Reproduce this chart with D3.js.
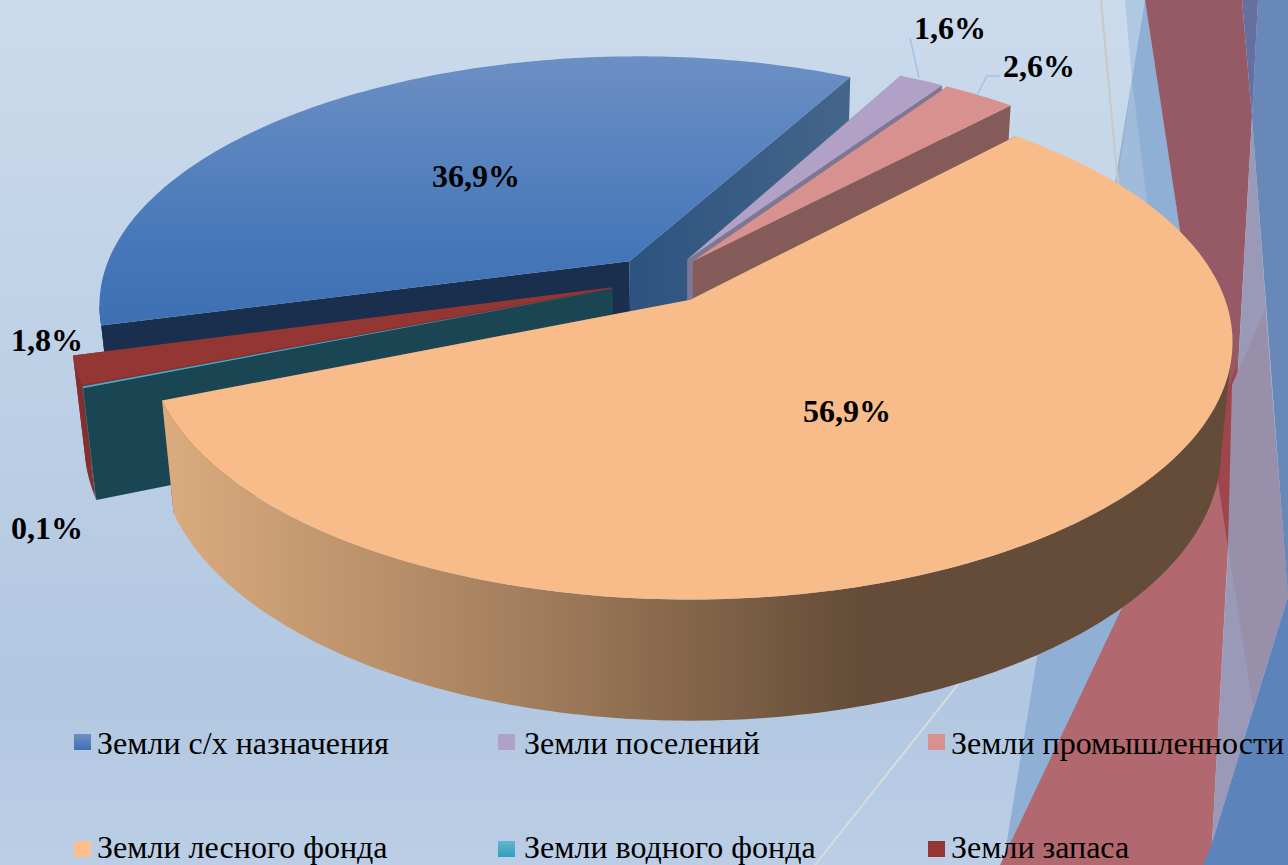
<!DOCTYPE html>
<html>
<head>
<meta charset="utf-8">
<script src="https://cdn.jsdelivr.net/npm/d3@7"></script>
<style>
  html, body { margin: 0; padding: 0; background: #bdd0e7; overflow: hidden; }
  text { font-family: "Liberation Serif", "Times New Roman", serif; fill: #000; }
</style>
</head>
<body>
<div id="chart"></div>
<script>
// data
const categories = ["Земли с/х назначения", "Земли поселений", "Земли промышленности",
                    "Земли лесного фонда", "Земли водного фонда", "Земли запаса"];
const values = [36.9, 1.6, 2.6, 56.9, 0.1, 1.8];
const valueLabels = ["36,9%", "1,6%", "2,6%", "56,9%", "0,1%", "1,8%"];

// colours of each slice
const topColors = ["url(#blueTop)", "#b2a1c6", "#d79290", "#f8bc8b", "#4bacc6", "#933634"];
const startWallColors = ["#1a2f4e", "#7e7794", "#855b59", "#644c38", "#1a4552", "#8a3030"];
const endWallColors = ["url(#blueWall)", "#7e7794", "#855b59", "#644c38", "#1a4552", "#8a3030"];
const outerWallColors = ["#1a2f4e", "#7e7794", "#855b59", "url(#orangeWall)", "#3a8ea5", "#852e2e"];
const swatchColors = ["url(#blueSwatch)", "#b2a1c6", "#d79290", "#fcc08e", "url(#tealSwatch)", "#933634"];

const width = 1288, height = 865;

const svg = d3.select("#chart").append("svg")
    .attr("width", width)
    .attr("height", height)
    .style("display", "block");

const defs = svg.append("defs");
function gradient(id, x1, y1, x2, y2, stops) {
  const g = defs.append("linearGradient").attr("id", id)
    .attr("gradientUnits", "userSpaceOnUse")
    .attr("x1", x1).attr("y1", y1).attr("x2", x2).attr("y2", y2);
  stops.forEach(s => g.append("stop").attr("offset", s[0]).attr("stop-color", s[1]));
}
gradient("bg", 0, 0, 0, height, [[0, "#cbdbec"], [0.8, "#b2c7e1"], [1, "#bbcee6"]]);
gradient("blueTop", 0, 55, 0, 320, [[0, "#6c90c4"], [0.75, "#4476b8"], [1, "#3e70b4"]]);
gradient("blueWall", 640, 0, 850, 0, [[0, "#2d5480"], [1, "#46658a"]]);
gradient("orangeWall", 165, 0, 860, 0, [[0, "#dbab7e"], [0.5, "#a5805e"], [1, "#644c38"]]);
gradient("blueSwatch", 0, 734, 0, 750, [[0, "#6c90c4"], [1, "#3e70b4"]]);
gradient("tealSwatch", 0, 840, 0, 858, [[0, "#66b8d0"], [1, "#2f9cbc"]]);

// background
svg.append("rect").attr("width", width).attr("height", height).attr("fill", "url(#bg)");

// decorative shapes behind the chart
const decor = [
  {c: "#b0c8e2", p: [[1125,0],[1145,0],[1132,80]]},
  {c: "#8fafd5", p: [[1145,0],[1003,865],[1100,865],[1228,547],[1180,230]]},
  {c: "#a1bbda", p: [[1132,80],[1117,183],[1150,225]]},
  {c: "#b2686f", p: [[1000,865],[1120,612],[1228,400],[1228,547],[1212,843],[1206,865]]},
  {c: "#955a66", p: [[1145,0],[1242,0],[1252,117],[1228,547]]},
  {c: "#9e464c", p: [[1237,365],[1210,430],[1218,480],[1228,547],[1235,430]]},
  {c: "#9a9ab8", p: [[1252,117],[1275,430],[1288,597],[1212,843]]},
  {c: "#988fab", p: [[1232,385],[1228,547],[1253,707],[1288,597],[1275,430],[1265,310]]},
  {c: "#6788b8", p: [[1258,0],[1288,0],[1288,597],[1252,117]]},
  {c: "#66709f", p: [[1242,0],[1258,0],[1252,117]]},
  {c: "#5c83ba", p: [[1288,597],[1288,865],[1203,865],[1212,843]]}
];
svg.append("g").selectAll("polygon").data(decor).enter().append("polygon")
    .attr("points", d => d.p.join(" "))
    .attr("fill", d => d.c);
svg.append("line").attr("x1", 1101).attr("y1", 0).attr("x2", 1118).attr("y2", 185)
    .attr("stroke", "#c8c9c4").attr("stroke-width", 2);
svg.append("line").attr("x1", 960).attr("y1", 682).attr("x2", 815).attr("y2", 865)
    .attr("stroke", "#d8dcdc").attr("stroke-width", 2);

// 3d projection of the pie plane
const cx = 691.5, cy = 300, ax = 535, by = 250.5, k = 0.165, m = 0.021, dz = 110;
function project(X, Y, Z) {
  const w = 1 + k * Y + m * Z;
  return [cx + ax * X / w, cy - (by * Y - dz * Z) / w];
}
const rad = d3.scaleLinear().domain([0, 360]).range([0, 2 * Math.PI]);
const startAt = rad(255);
const total = d3.sum(values);
const pie = d3.pie().sort(null).startAngle(startAt).endAngle(startAt + 2 * Math.PI * total / 100);
const arcs = pie(values);

// every slice is pulled out of one centre
const originX = -0.058, originY = 0.082, explode = 0.098;
const line = d3.line();
const front = [rad(100), rad(260)];

function apex(a) {
  const mid = (a.startAngle + a.endAngle) / 2;
  return [originX + explode * Math.sin(mid), originY + explode * Math.cos(mid)];
}
function rimPoints(a, t0, t1, Z) {
  const c = apex(a);
  const n = Math.max(2, Math.ceil((t1 - t0) / rad(1)));
  return d3.range(n + 1).map(i => {
    const t = t0 + (t1 - t0) * i / n;
    return project(c[0] + Math.sin(t), c[1] + Math.cos(t), Z);
  });
}
function radialWall(a, t) {
  const c = apex(a);
  const tip = [c[0] + Math.sin(t), c[1] + Math.cos(t)];
  return line([project(c[0], c[1], 0), project(tip[0], tip[1], 0),
               project(tip[0], tip[1], 1), project(c[0], c[1], 1)]) + "Z";
}
// only the part of the rim that faces the viewer gets a wall
function outerWall(a) {
  // the pie starts at 255 degrees so later slices run past a full turn
  const turn = a.startAngle >= 2 * Math.PI ? 2 * Math.PI : 0;
  const t0 = Math.max(a.startAngle - turn, front[0]), t1 = Math.min(a.endAngle - turn, front[1]);
  if (t1 <= t0) return null;
  const topEdge = rimPoints(a, t0, t1, 0);
  const bottomEdge = rimPoints(a, t0, t1, 1).reverse();
  return line(topEdge.concat(bottomEdge)) + "Z";
}
function topFace(a) {
  const c = apex(a);
  return line([project(c[0], c[1], 0)].concat(rimPoints(a, a.startAngle, a.endAngle, 0))) + "Z";
}

// paint from the back slice to the front slice
const paintOrder = [0, 1, 2, 5, 4, 3];
const slices = svg.append("g").selectAll("g").data(paintOrder).enter().append("g");
slices.append("path").attr("d", i => radialWall(arcs[i], arcs[i].startAngle)).attr("fill", i => startWallColors[i]);
slices.append("path").attr("d", i => radialWall(arcs[i], arcs[i].endAngle)).attr("fill", i => endWallColors[i]);
slices.append("path").attr("d", i => outerWall(arcs[i])).attr("fill", i => outerWallColors[i]);
slices.append("path").attr("d", i => topFace(arcs[i])).attr("fill", i => topColors[i]);

// leader lines
svg.append("path").attr("d", "M910,38L919,78").attr("fill", "none").attr("stroke", "#a3c2e8").attr("stroke-width", 1.5);
svg.append("path").attr("d", "M1000,76L987,76L977,95").attr("fill", "none").attr("stroke", "#a3c2e8").attr("stroke-width", 1.5);

// value labels
const labelPos = [[476, 187], [950, 39], [1039, 77], [847, 422], [47, 539], [47, 351]];
svg.append("g").selectAll("text").data(valueLabels).enter().append("text")
    .attr("x", (d, i) => labelPos[i][0])
    .attr("y", (d, i) => labelPos[i][1])
    .attr("text-anchor", "middle")
    .style("font-size", "32px")
    .style("font-weight", "bold")
    .text(d => d);

// legend
const swatchX = [74, 498, 928], textX = [97, 524, 951], swatchY = [734, 841], textY = [754, 858];
const legend = svg.append("g").selectAll("g").data(categories).enter().append("g");
legend.append("rect")
    .attr("x", (d, i) => swatchX[i % 3])
    .attr("y", (d, i) => swatchY[Math.floor(i / 3)])
    .attr("width", 17)
    .attr("height", 16)
    .attr("fill", (d, i) => swatchColors[i]);
legend.append("text")
    .attr("x", (d, i) => textX[i % 3])
    .attr("y", (d, i) => textY[Math.floor(i / 3)])
    .style("font-size", "32px")
    .text(d => d);
</script>
</body>
</html>
